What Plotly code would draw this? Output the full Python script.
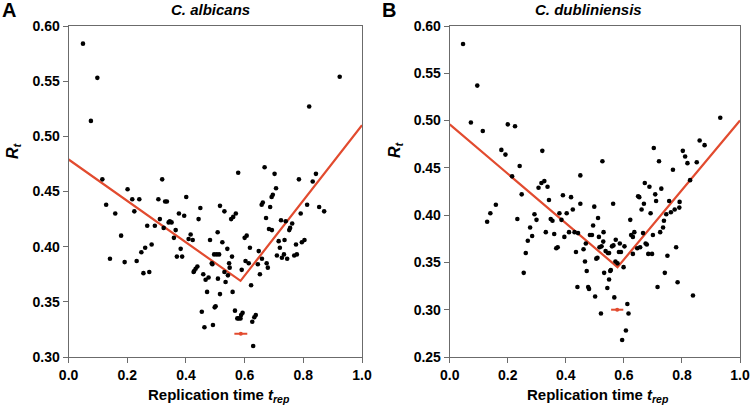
import plotly.graph_objects as go

# ---------------- data ----------------
alb_x = [0.049, 0.098, 0.076, 0.115, 0.319, 0.201, 0.217, 0.241, 0.306, 0.401,
         0.128, 0.159, 0.224, 0.329, 0.335, 0.449, 0.516, 0.311, 0.294, 0.268,
         0.345, 0.351, 0.341, 0.376, 0.394, 0.443, 0.324, 0.365, 0.359, 0.416,
         0.409, 0.423, 0.482, 0.508, 0.179, 0.283, 0.261, 0.248, 0.382, 0.369,
         0.387, 0.141, 0.191, 0.232, 0.255, 0.275, 0.488, 0.490, 0.496, 0.505,
         0.513, 0.439, 0.433, 0.428, 0.426, 0.459, 0.467, 0.477, 0.509, 0.472,
         0.516, 0.501, 0.498, 0.454, 0.463, 0.492, 0.578, 0.668, 0.702, 0.785,
         0.843, 0.832, 0.707, 0.696, 0.692, 0.662, 0.658, 0.687, 0.531, 0.570,
         0.561, 0.554, 0.673, 0.813, 0.854, 0.871, 0.791, 0.724, 0.740, 0.762,
         0.755, 0.752, 0.683, 0.693, 0.524, 0.541, 0.600, 0.607, 0.618, 0.557,
         0.547, 0.549, 0.531, 0.543, 0.603, 0.614, 0.648, 0.659, 0.645, 0.652,
         0.675, 0.679, 0.716, 0.720, 0.736, 0.710, 0.727, 0.734, 0.745, 0.775,
         0.769, 0.778, 0.795, 0.804, 0.590, 0.535, 0.559, 0.622, 0.567, 0.593,
         0.588, 0.580, 0.575, 0.586, 0.638, 0.633, 0.626, 0.629, 0.924, 0.820]
alb_y = [0.584, 0.553, 0.514, 0.461, 0.461, 0.452, 0.443, 0.443, 0.443, 0.445,
         0.438, 0.430, 0.432, 0.441, 0.441, 0.435, 0.437, 0.425, 0.419, 0.419,
         0.423, 0.422, 0.422, 0.430, 0.428, 0.425, 0.417, 0.415, 0.408, 0.411,
         0.407, 0.406, 0.406, 0.413, 0.410, 0.402, 0.399, 0.395, 0.398, 0.391,
         0.391, 0.389, 0.386, 0.387, 0.376, 0.377, 0.385, 0.384, 0.393, 0.393,
         0.393, 0.382, 0.380, 0.378, 0.377, 0.375, 0.370, 0.372, 0.371, 0.359,
         0.357, 0.346, 0.345, 0.341, 0.327, 0.329, 0.467, 0.472, 0.466, 0.461,
         0.466, 0.459, 0.453, 0.447, 0.445, 0.440, 0.438, 0.436, 0.432, 0.430,
         0.427, 0.425, 0.426, 0.438, 0.436, 0.432, 0.430, 0.424, 0.423, 0.421,
         0.417, 0.415, 0.416, 0.415, 0.404, 0.398, 0.408, 0.410, 0.399, 0.391,
         0.385, 0.381, 0.377, 0.374, 0.387, 0.385, 0.396, 0.389, 0.384, 0.375,
         0.385, 0.381, 0.405, 0.399, 0.406, 0.392, 0.390, 0.393, 0.389, 0.402,
         0.392, 0.393, 0.404, 0.406, 0.379, 0.368, 0.359, 0.365, 0.342, 0.340,
         0.338, 0.335, 0.335, 0.335, 0.338, 0.336, 0.332, 0.310, 0.554, 0.527]

dub_x = [0.046, 0.095, 0.073, 0.114, 0.200, 0.225, 0.178, 0.192, 0.319, 0.241,
         0.215, 0.316, 0.326, 0.337, 0.306, 0.248, 0.450, 0.390, 0.418, 0.342,
         0.424, 0.450, 0.129, 0.140, 0.159, 0.233, 0.292, 0.299, 0.277, 0.284,
         0.269, 0.262, 0.255, 0.331, 0.348, 0.354, 0.360, 0.367, 0.372, 0.378,
         0.385, 0.395, 0.403, 0.411, 0.430, 0.442, 0.435, 0.440, 0.932, 0.861,
         0.878, 0.803, 0.811, 0.819, 0.851, 0.828, 0.703, 0.721, 0.769, 0.526,
         0.672, 0.688, 0.649, 0.653, 0.708, 0.729, 0.711, 0.756, 0.792, 0.661,
         0.669, 0.692, 0.775, 0.791, 0.762, 0.746, 0.738, 0.735, 0.725, 0.700,
         0.666, 0.675, 0.679, 0.656, 0.646, 0.684, 0.697, 0.780, 0.750, 0.741,
         0.716, 0.785, 0.838, 0.622, 0.625, 0.631, 0.636, 0.631, 0.602, 0.599,
         0.572, 0.586, 0.564, 0.583, 0.590, 0.571, 0.578, 0.563, 0.511, 0.494,
         0.498, 0.530, 0.483, 0.490, 0.514, 0.516, 0.523, 0.529, 0.537, 0.545,
         0.549, 0.559, 0.509, 0.505, 0.532, 0.553, 0.555, 0.549, 0.543, 0.567,
         0.501, 0.521, 0.612, 0.616, 0.607, 0.594, 0.466, 0.472, 0.477, 0.480,
         0.461, 0.469]
dub_y = [0.581, 0.537, 0.498, 0.489, 0.496, 0.494, 0.469, 0.464, 0.468, 0.452,
         0.441, 0.434, 0.436, 0.430, 0.429, 0.422, 0.442, 0.421, 0.419, 0.416,
         0.406, 0.412, 0.393, 0.402, 0.411, 0.396, 0.401, 0.395, 0.387, 0.378,
         0.373, 0.360, 0.339, 0.382, 0.396, 0.394, 0.380, 0.365, 0.366, 0.402,
         0.395, 0.377, 0.402, 0.382, 0.382, 0.381, 0.361, 0.324, 0.503, 0.479,
         0.474, 0.468, 0.462, 0.455, 0.456, 0.437, 0.471, 0.457, 0.448, 0.457,
         0.434, 0.430, 0.420, 0.419, 0.422, 0.428, 0.415, 0.415, 0.414, 0.406,
         0.412, 0.402, 0.406, 0.408, 0.403, 0.401, 0.394, 0.387, 0.382, 0.379,
         0.381, 0.370, 0.369, 0.366, 0.365, 0.359, 0.359, 0.366, 0.357, 0.339,
         0.324, 0.329, 0.315, 0.395, 0.379, 0.377, 0.382, 0.359, 0.367, 0.345,
         0.374, 0.370, 0.368, 0.361, 0.361, 0.351, 0.349, 0.412, 0.397, 0.389,
         0.409, 0.382, 0.379, 0.379, 0.377, 0.366, 0.367, 0.372, 0.362, 0.360,
         0.360, 0.367, 0.355, 0.354, 0.339, 0.341, 0.342, 0.332, 0.323, 0.313,
         0.314, 0.296, 0.306, 0.296, 0.278, 0.268, 0.351, 0.341, 0.324, 0.322,
         0.364, 0.370]

# piecewise-linear fits (breakpoint = replication-time estimate)
alb_fit_x = [0.0, 0.586, 1.0]
alb_fit_y = [0.479, 0.369, 0.510]
dub_fit_x = [0.0, 0.578, 1.0]
dub_fit_y = [0.496, 0.345, 0.500]

# breakpoint estimate with error
alb_bp = [0.587]
alb_bp_y = [0.321]
alb_bp_err = [0.022]
dub_bp = [0.577]
dub_bp_y = [0.300]
dub_bp_err = [0.021]

x_ticks = [0.0, 0.2, 0.4, 0.6, 0.8, 1.0]
x_tick_text = ["0.0", "0.2", "0.4", "0.6", "0.8", "1.0"]

# ---------------- styling ----------------
W, H = 753, 413
RED = "#E24B2F"
AX = "#6b6b6b"
FONT = "Liberation Sans"

fig = go.Figure()

def add_panel(xs, ys, fx, fy, bx, by, be, xa, ya):
    fig.add_trace(go.Scatter(x=fx, y=fy, mode="lines",
                             line=dict(color=RED, width=2.2),
                             xaxis=xa, yaxis=ya, showlegend=False,
                             hoverinfo="skip"))
    fig.add_trace(go.Scatter(x=xs, y=ys, mode="markers",
                             marker=dict(color="black", size=4.6),
                             xaxis=xa, yaxis=ya, showlegend=False))
    fig.add_trace(go.Scatter(x=bx, y=by, mode="markers",
                             marker=dict(color=RED, size=4),
                             error_x=dict(type="data", array=be, color=RED,
                                          thickness=2, width=0),
                             xaxis=xa, yaxis=ya, showlegend=False))

add_panel(alb_x, alb_y, alb_fit_x, alb_fit_y, alb_bp, alb_bp_y, alb_bp_err, "x", "y")
add_panel(dub_x, dub_y, dub_fit_x, dub_fit_y, dub_bp, dub_bp_y, dub_bp_err, "x2", "y2")

tickfont = dict(family=FONT, size=14, color="black", weight="bold")
ydom = [1 - 357 / H, 1 - 26 / H]

def xaxis(dom, anchor):
    return dict(domain=dom, anchor=anchor, range=[0, 1], tickvals=x_ticks,
                ticktext=x_tick_text, ticks="outside", ticklen=5,
                tickcolor=AX, showline=True, linecolor=AX, linewidth=1,
                mirror=True, showgrid=False, zeroline=False,
                tickfont=tickfont, automargin=False)

def yaxis(rng, anchor):
    return dict(domain=ydom, anchor=anchor, range=rng, dtick=0.05,
                tick0=0.25, tickformat=".2f", ticks="outside", ticklen=5,
                tickcolor=AX, showline=True, linecolor=AX, linewidth=1,
                mirror=True, showgrid=False, zeroline=False,
                tickfont=tickfont, automargin=False)

fig.update_layout(
    width=W, height=H,
    margin=dict(l=0, r=0, t=0, b=0),
    paper_bgcolor="white", plot_bgcolor="white",
    font=dict(family=FONT, color="black"),
    xaxis=xaxis([68.6 / W, 362 / W], "y"),
    yaxis=yaxis([0.30, 0.60], "x"),
    xaxis2=xaxis([449.7 / W, 740 / W], "y2"),
    yaxis2=yaxis([0.25, 0.60], "x2"),
)

def ann(text, px, py, size, angle=0, xanchor="center"):
    fig.add_annotation(text=text, x=px / W, y=1 - py / H, xref="paper",
                       yref="paper", showarrow=False, xanchor=xanchor,
                       yanchor="middle", textangle=angle,
                       font=dict(family=FONT, size=size, color="black",
                                 weight="bold"))

ann("A", 9, 10, 20)
ann("B", 389, 10, 20)
ann("<i>C. albicans</i>", 211, 9, 15)
ann("<i>C. dubliniensis</i>", 588, 9, 15)
ann("Replication time <i>t</i><sub><i>rep</i></sub>", 219, 395, 15)
ann("Replication time <i>t</i><sub><i>rep</i></sub>", 598, 395, 15)
ann("<i>R</i><sub><i>t</i></sub>", 13, 150, 16, angle=-90)
ann("<i>R</i><sub><i>t</i></sub>", 395, 150, 16, angle=-90)

fig.write_html("out.html",
               config={"displayModeBar": False},
               post_script="document.body.style.margin='0';"
                           "document.body.style.overflow='hidden';")
